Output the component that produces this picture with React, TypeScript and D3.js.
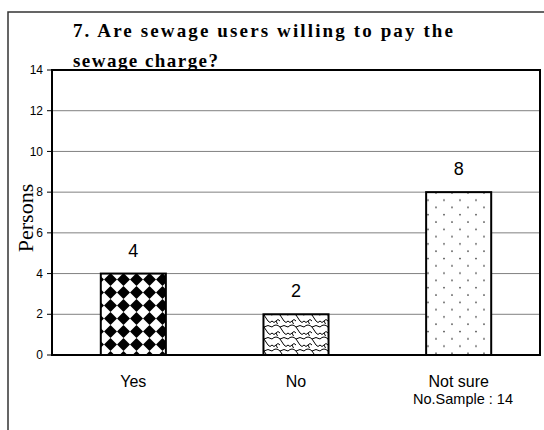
import React from "react";
import * as d3 from "d3";

const categories = ["Yes", "No", "Not sure"];
const values = [4, 2, 8];
const yTicks = [0, 2, 4, 6, 8, 10, 12, 14];
const titleLines = ["7.  Are sewage users willing to pay the", "sewage charge?"];
const yTitle = "Persons";
const note = "No.Sample : 14";
const patternIds = ["pDiamond", "pWeave", "pDots"];

const W = 544;
const H = 430;
const plot = { left: 52, top: 70, right: 540, bottom: 355 };

export default function App() {
  const x = d3
    .scaleBand<string>()
    .domain(categories)
    .range([plot.left, plot.right])
    .paddingInner(0.6)
    .paddingOuter(0.3);
  const y = d3.scaleLinear().domain([0, 14]).range([plot.bottom, plot.top]);
  const arial = "Arial, 'Liberation Sans', sans-serif";
  const serif = "'Times New Roman', 'Liberation Serif', serif";

  return (
    <svg
      width={W}
      height={H}
      style={{ position: "absolute", left: 0, top: 0, background: "#fff" }}
    >
      <defs>
        <pattern id="pDiamond" patternUnits="userSpaceOnUse" width={13} height={13}>
          <rect width={13} height={13} fill="#fff" />
          <polygon points="6.5,0 13,6.5 6.5,13 0,6.5" fill="#000" />
          <circle cx={0} cy={0} r={3.2} fill="#fff" />
          <circle cx={13} cy={0} r={3.2} fill="#fff" />
          <circle cx={0} cy={13} r={3.2} fill="#fff" />
          <circle cx={13} cy={13} r={3.2} fill="#fff" />
        </pattern>
        <pattern id="pWeave" patternUnits="userSpaceOnUse" width={16} height={12}>
          <rect width={16} height={12} fill="#fff" />
          <path
            d="M0,3 Q4,-1 8,3 Q10,6 12,9 Q14,12 16,9 M8,3 Q12,0 16,3 M0,9 Q2,12 4,9 Q6,6 8,9 M4,9 Q6,14 8,15"
            fill="none"
            stroke="#000"
            strokeWidth={1}
          />
        </pattern>
        <pattern id="pDots" patternUnits="userSpaceOnUse" width={16} height={14.6}>
          <rect width={16} height={14.6} fill="#fff" />
          <circle cx={4} cy={3} r={0.9} fill="#444" />
          <circle cx={12} cy={10.3} r={0.9} fill="#444" />
        </pattern>
      </defs>

      {/* outer frame */}
      <rect x={8} y={12} width={W + 20} height={H + 20} fill="none" stroke="#333" strokeWidth={1.5} />

      {/* title */}
      <text
        x={73}
        y={37}
        fontFamily={serif}
        fontWeight="bold"
        fontSize={19}
        textLength={380}
        lengthAdjust="spacing"
      >
        {titleLines[0]}
      </text>
      <text
        x={73}
        y={67}
        fontFamily={serif}
        fontWeight="bold"
        fontSize={19}
        textLength={145}
        lengthAdjust="spacing"
      >
        {titleLines[1]}
      </text>

      {/* gridlines */}
      {yTicks.map((t) => (
        <line
          key={"g" + t}
          x1={plot.left}
          x2={plot.right}
          y1={y(t)}
          y2={y(t)}
          stroke="#808080"
          strokeWidth={1}
        />
      ))}

      {/* plot border */}
      <rect
        x={plot.left}
        y={plot.top}
        width={plot.right - plot.left}
        height={plot.bottom - plot.top}
        fill="none"
        stroke="#000"
        strokeWidth={2}
      />

      {/* ticks */}
      {yTicks.map((t) => (
        <g key={"t" + t}>
          <line x1={plot.left - 5} x2={plot.left} y1={y(t)} y2={y(t)} stroke="#000" strokeWidth={1} />
          <text
            x={plot.left - 9}
            y={y(t)}
            dy="0.35em"
            textAnchor="end"
            fontFamily={arial}
            fontSize={12}
          >
            {t}
          </text>
        </g>
      ))}

      {/* bars */}
      {categories.map((c, i) => (
        <g key={c}>
          <rect
            x={x(c)}
            y={y(values[i])}
            width={x.bandwidth()}
            height={y(0) - y(values[i])}
            fill={`url(#${patternIds[i]})`}
            stroke="#000"
            strokeWidth={2}
          />
          <text
            x={(x(c) as number) + x.bandwidth() / 2}
            y={y(values[i]) - 17}
            textAnchor="middle"
            fontFamily={arial}
            fontSize={18}
          >
            {values[i]}
          </text>
          <text
            x={(x(c) as number) + x.bandwidth() / 2}
            y={387}
            textAnchor="middle"
            fontFamily={arial}
            fontSize={16}
          >
            {c}
          </text>
        </g>
      ))}

      <text x={463} y={404} textAnchor="middle" fontFamily={arial} fontSize={14.5}>
        {note}
      </text>

      {/* y title */}
      <text
        transform={`translate(33,218) rotate(-90)`}
        textAnchor="middle"
        fontFamily={serif}
        fontSize={22}
      >
        {yTitle}
      </text>
    </svg>
  );
}
